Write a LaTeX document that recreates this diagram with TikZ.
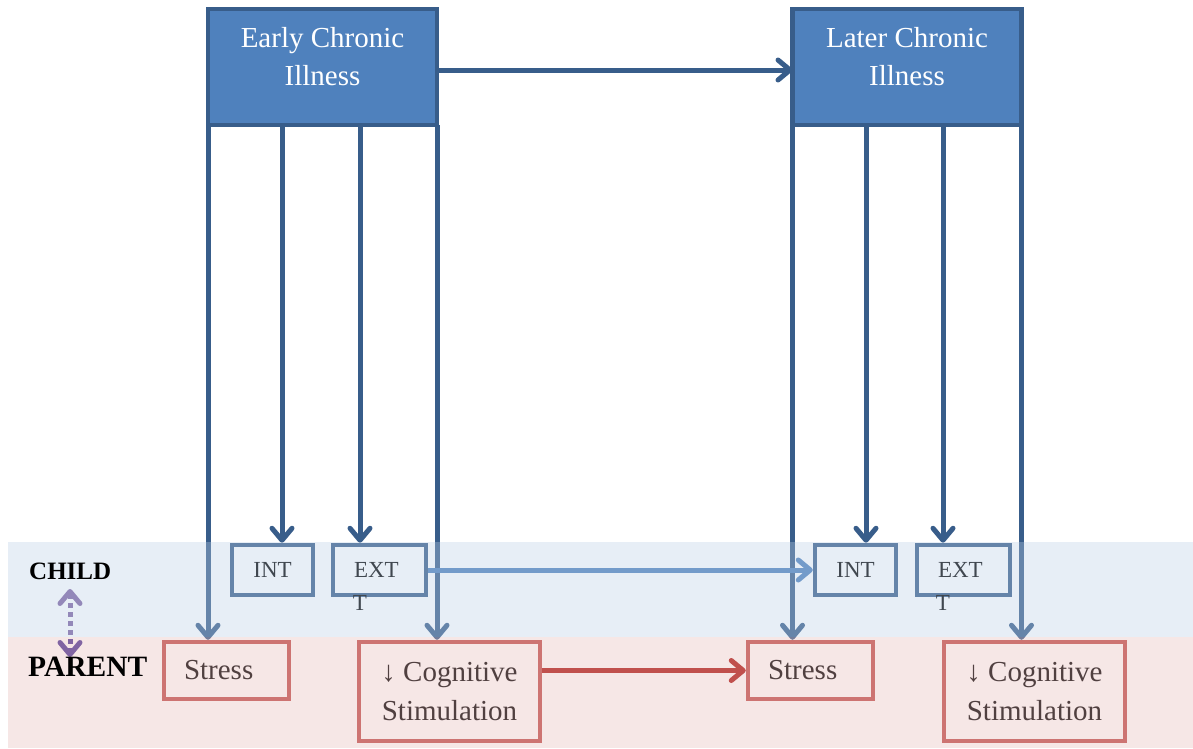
\documentclass[tikz,border=0pt]{standalone}
\usepackage{fontspec}
\setmainfont{Liberation Serif}
\usetikzlibrary{arrows.meta,calc}
\definecolor{topfill}{HTML}{4F81BD}
\definecolor{topdraw}{HTML}{385D8A}
\definecolor{redc}{HTML}{C0504D}
\definecolor{bandblue}{HTML}{B9CDE5}
\definecolor{bandpink}{HTML}{E6B9B8}
\definecolor{purp}{HTML}{8064A2}
\tikzset{
  barb/.tip={Straight Barb[length=12pt,width=20pt,line width=5pt,line cap=round,line join=round]},
  arr/.style={-barb},
  arrboth/.style={barb-barb},
  topbox/.style={draw=topdraw,fill=topfill,line width=4.5pt,minimum width=229pt,minimum height=116pt,inner sep=0pt,outer sep=0pt},
  toptext/.style={text=white,align=center,font=\fontsize{29}{38}\selectfont,inner sep=0pt},
  childbox/.style={draw=topdraw,line width=4.5pt,minimum height=50pt,inner sep=0pt,font=\fontsize{23}{32}\selectfont},
  parbox/.style={draw=redc,line width=4.5pt,inner sep=0pt,font=\fontsize{29}{39}\selectfont},
  vline/.style={draw=topdraw,line width=5pt,arr},
  lbl/.style={anchor=west,inner sep=0pt,font=\bfseries}
}
\begin{document}
\begin{tikzpicture}[x=1pt,y=-1pt]
\useasboundingbox (0,0) rectangle (1193,748);
% top boxes
\node[topbox] (eci) at (322.5,67) {};
\node[topbox] (lci) at (907,67) {};
% child boxes
\node[childbox,minimum width=81pt] (int) at (272.5,570) {INT};
\node[childbox,minimum width=93pt,text width=51pt,align=left] (ext) at (379.5,570) {EXT};
\node[font=\fontsize{23}{32}\selectfont,inner sep=0pt] (extT) at (360,603) {T};
\node[childbox,minimum width=81pt] (int2) at (855.5,570) {INT};
\node[childbox,minimum width=93pt,text width=51pt,align=left] (ext2) at (963.5,570) {EXT};
\node[font=\fontsize{23}{32}\selectfont,inner sep=0pt] (ext2T) at (943,603) {T};
% parent boxes
\node[parbox,minimum width=125pt,minimum height=57pt,text width=85pt,align=left,inner xsep=20pt] (stress) at (226.5,670.5) {Stress};
\node[parbox,minimum width=181pt,minimum height=99pt,align=center] (cog) at (449.5,691.5) {↓ Cognitive\\Stimulation};
\node[parbox,minimum width=125pt,minimum height=57pt,text width=85pt,align=left,inner xsep=20pt] (stress2) at (810.5,670.5) {Stress};
\node[parbox,minimum width=181pt,minimum height=99pt,align=center] (cog2) at (1034.5,691.5) {↓ Cognitive\\Stimulation};
% vertical connectors
\coordinate (e1) at (282,125);
\coordinate (e2) at (360,125);
\coordinate (l1) at (866,125);
\coordinate (l2) at (943,125);
\draw[vline] (eci.south west) -- (eci.south west |- stress.north);
\draw[vline] (e1) -- (e1 |- int.north);
\draw[vline] (e2) -- (e2 |- ext.north);
\draw[vline] (eci.south east) -- (eci.south east |- cog.north);
\draw[vline] (lci.south west) -- (lci.south west |- stress2.north);
\draw[vline] (l1) -- (l1 |- int2.north);
\draw[vline] (l2) -- (l2 |- ext2.north);
\draw[vline] (lci.south east) -- (lci.south east |- cog2.north);
% EXT -> INT
\draw[draw=topfill,line width=5pt,arr] (ext.east) -- (int2.west);
% bands
\fill[bandpink,opacity=0.35] (8,637) rectangle (1193,748);
\coordinate (pa) at (70,589);
\coordinate (pb) at (70,657);
\draw[purp,line width=5pt,dash pattern=on 5pt off 4pt,arrboth] (pa) -- (pb);
\fill[bandblue,opacity=0.35] (8,542) rectangle (1193,637);
% top texts
\node[toptext] (ecit) at (322.5,57) {Early Chronic\\Illness};
\node[toptext] (lcit) at (907,57) {Later Chronic\\Illness};
% top arrow
\draw[draw=topdraw,line width=5pt,arr] ($(eci.east)+(0,3)$) -- ($(lci.west)+(0,3)$);
% red arrow
\draw[draw=redc,line width=5pt,arr] (cog.east |- stress2.west) -- (stress2.west);
% labels
\node[lbl,font=\bfseries\fontsize{25}{30}\selectfont] (child) at (29,571) {CHILD};
\node[lbl,font=\bfseries\fontsize{29.5}{30}\selectfont] (parent) at (28,667) {PARENT};
\end{tikzpicture}
\end{document}
